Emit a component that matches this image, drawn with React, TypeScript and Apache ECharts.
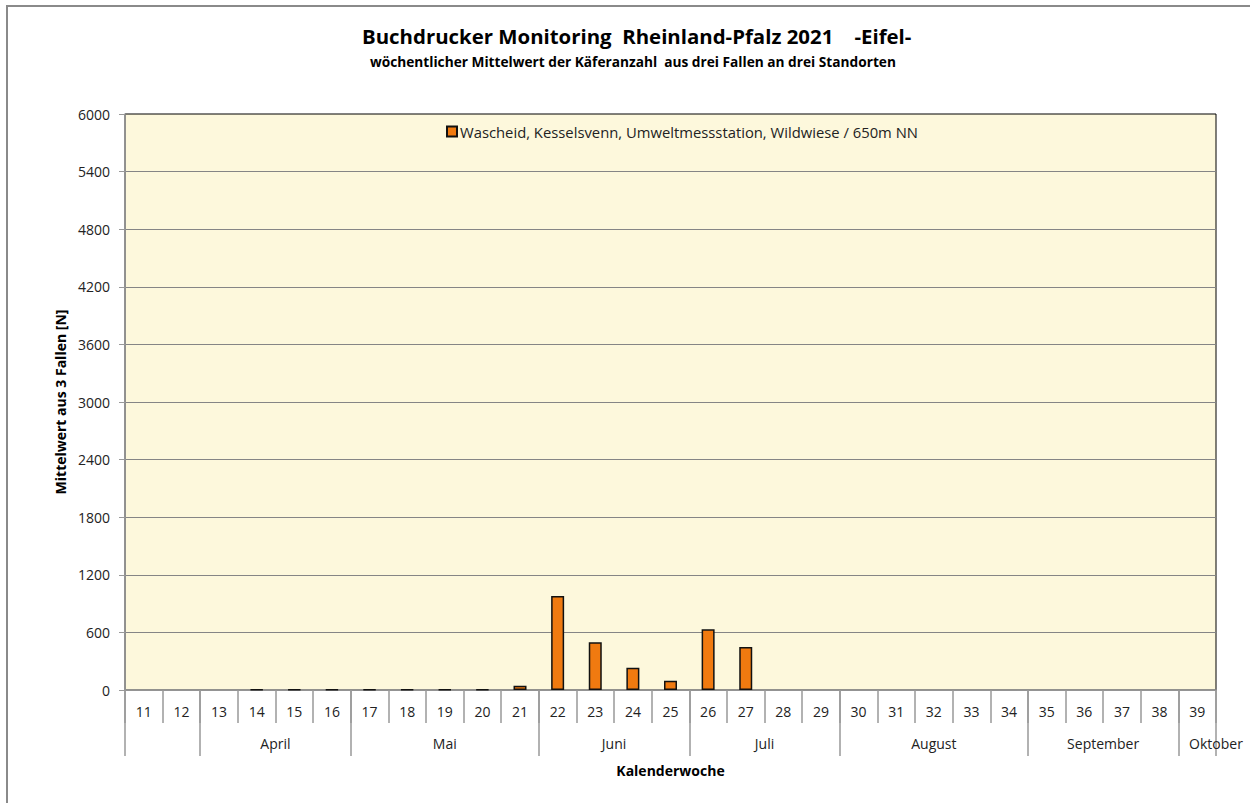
import React, { useEffect, useRef } from "react";
import * as echarts from "echarts";

const weeks = ["11","12","13","14","15","16","17","18","19","20","21","22","23","24","25","26","27","28","29","30","31","32","33","34","35","36","37","38","39"];
const beetleMeans: (number | null)[] = [null,null,null,6,6,6,6,6,6,6,45,980,497,232,97,632,448,null,null,null,null,null,null,null,null,null,null,null,null];
const monthNames = ["April","Mai","Juni","Juli","August","September","Oktober"];
const monthLabelPos = [4, 8.5, 13, 17, 21.5, 26, 29];
const monthBounds = [0, 2, 6, 11, 15, 19, 24, 28, 29];
const seriesName = "Wascheid, Kesselsvenn, Umweltmessstation, Wildwiese / 650m NN";

const FONT = "'Open Sans', 'Noto Sans', sans-serif";

export default function App() {
  const ref = useRef<HTMLDivElement>(null);
  useEffect(() => {
    if (!ref.current) return;
    const chart = echarts.init(ref.current, null, { renderer: "svg" });
    chart.setOption({
      animation: false,
      textStyle: { fontFamily: FONT },
      title: [
        {
          text: "Buchdrucker Monitoring  Rheinland-Pfalz 2021    -Eifel-",
          left: 357, top: 21,
          textStyle: { fontFamily: FONT, fontSize: 20.4, fontWeight: "bold", color: "#000" },
        },
        {
          text: "wöchentlicher Mittelwert der Käferanzahl  aus drei Fallen an drei Standorten",
          left: 365, top: 49,
          textStyle: { fontFamily: FONT, fontSize: 13.7, fontWeight: "bold", color: "#000" },
        },
      ],
      graphic: [
        {
          type: "rect",
          shape: { x: 7, y: 6, width: 1400, height: 1000 },
          style: { fill: "none", stroke: "#8a8a8a", lineWidth: 2 },
          silent: true,
        },
      ],
      legend: {
        left: 441, top: 119,
        itemWidth: 10, itemHeight: 10, itemGap: 4,
        icon: "rect",
        textStyle: { fontFamily: FONT, fontSize: 14.8, color: "#222", padding: [0, 0, 0, -2] },
        data: [seriesName],
      },
      grid: {
        left: 125, right: 34, top: 114, bottom: 113,
        show: true, backgroundColor: "#FDF8DC", borderColor: "#000", borderWidth: 1,
      },
      xAxis: [
        {
          type: "category",
          data: weeks,
          position: "bottom",
          boundaryGap: true,
          axisLine: { show: true, lineStyle: { color: "#999", width: 1.5 } },
          axisTick: { show: true, interval: 0, length: 33, lineStyle: { color: "#999", width: 1.5 } },
          axisLabel: { interval: 0, margin: 14, fontSize: 14, color: "#222", fontFamily: FONT },
          splitLine: { show: false },
          name: "Kalenderwoche",
          nameLocation: "middle",
          nameGap: 73,
          nameTextStyle: { fontFamily: FONT, fontSize: 14, fontWeight: "bold", color: "#000" },
        },
        {
          type: "value",
          min: 0,
          max: 29,
          position: "bottom",
          axisLine: { show: false },
          axisTick: { show: true, length: 66, customValues: monthBounds, lineStyle: { color: "#999", width: 1.5 } },
          axisLabel: {
            customValues: monthLabelPos,
            margin: 46,
            fontSize: 14,
            color: "#222",
            fontFamily: FONT,
            showMinLabel: true,
            showMaxLabel: true,
            formatter: (v: number) => {
              const i = monthLabelPos.findIndex((p) => Math.abs(p - v) < 0.01);
              return i >= 0 ? monthNames[i] : "";
            },
          },
          splitLine: { show: false },
        },
      ],
      yAxis: {
        type: "value",
        min: 0,
        max: 6000,
        interval: 600,
        axisLine: { show: true, lineStyle: { color: "#999", width: 1.5 } },
        axisTick: { show: true, length: 6, lineStyle: { color: "#999" } },
        axisLabel: { fontSize: 14, color: "#222", margin: 15, fontFamily: FONT, formatter: (v: number) => String(v) },
        splitLine: { show: true, showMaxLine: false, lineStyle: { color: "#858585", width: 1.2 } },
        name: "Mittelwert aus 3 Fallen [N]",
        nameLocation: "middle",
        nameGap: 58,
        nameRotate: 90,
        nameTextStyle: { fontFamily: FONT, fontSize: 14, fontWeight: "bold", color: "#000" },
      },
      series: [
        {
          name: seriesName,
          type: "bar",
          xAxisIndex: 0,
          data: beetleMeans,
          barWidth: 13,
          itemStyle: { color: "#F07A10", borderColor: "#111", borderWidth: 1.5 },
        },
      ],
    });
    return () => chart.dispose();
  }, []);
  return <div ref={ref} style={{ position: "absolute", left: 0, top: 0, width: 1250, height: 803 }} />;
}
